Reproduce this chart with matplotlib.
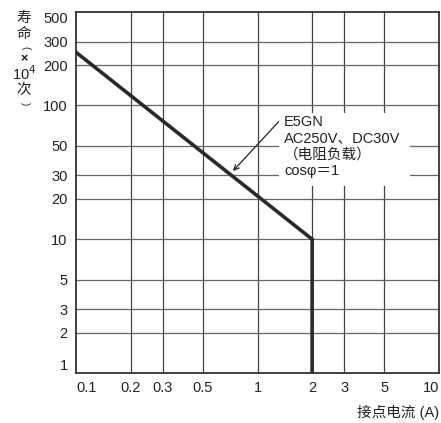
import matplotlib
matplotlib.use("Agg")
import matplotlib.pyplot as plt
from matplotlib.ticker import FixedLocator, NullLocator

plt.rcParams['font.family'] = ['Liberation Sans', 'Noto Sans CJK SC', 'DejaVu Sans']

# Data
current = [0.1, 2, 2]          # contact current (A)
life = [250, 10, 1]            # life (x10^4 operations)
x_ticks = [0.1, 0.2, 0.3, 0.5, 1, 2, 3, 5, 10]
x_labels = ['0.1', '0.2', '0.3', '0.5', '1', '2', '3', '5', '10']
y_ticks = [1, 2, 3, 5, 10, 20, 30, 50, 100, 200, 300, 500]
y_labels = ['1', '2', '3', '5', '10', '20', '30', '50', '100', '200', '300', '500']
annot_lines = ['E5GN', 'AC250V、DC30V', '（电阻负载）', 'cosφ＝1']

FS = 10.5
W, H = 441, 423
fig = plt.figure(figsize=(W / 100, H / 100), dpi=100)
ax = fig.add_axes([76 / W, 1 - 373 / H, (439 - 76) / W, (373 - 12) / H])
ax.set_xscale('log')
ax.set_yscale('log')
ax.set_xlim(0.1, 10)
ax.set_ylim(1, 500)

ax.xaxis.set_major_locator(FixedLocator(x_ticks))
ax.xaxis.set_minor_locator(NullLocator())
ax.yaxis.set_major_locator(FixedLocator(y_ticks))
ax.yaxis.set_minor_locator(NullLocator())
ax.set_xticklabels(x_labels)
ax.set_yticklabels(y_labels)
ax.tick_params(axis='both', length=0, labelsize=FS, colors='#222222')
ax.tick_params(axis='x', pad=6)
ax.tick_params(axis='y', pad=6)
xl = ax.get_xticklabels()
xl[0].set_ha('left')
xl[-1].set_ha('right')
yl = ax.get_yticklabels()
yl[0].set_va('bottom')
yl[-1].set_va('top')

for v in x_ticks[1:-1]:
    ax.axvline(v, color='#444444', lw=0.9, zorder=1)
for v in y_ticks[1:-1]:
    ax.axhline(v, color='#666666', lw=0.9, zorder=1)

for s in ax.spines.values():
    s.set_color('#333333')
    s.set_linewidth(1.3)

ax.plot(current, life, color='#2a2a2a', lw=2.6, zorder=3, solid_joinstyle='miter')

# annotation
fig.patches.append(plt.Rectangle((279 / W, 1 - 186 / H), (410 - 279) / W, (186 - 113) / H,
                                 transform=fig.transFigure, fc='white', ec='none', zorder=2))
ax.set_zorder(1)
ax.patch.set_alpha(0)
arrow_start = fig.transFigure.transform((283 / W, 1 - 117 / H))
arrow_end = fig.transFigure.transform((233 / W, 1 - 171 / H))
ax.annotate('', xy=ax.transData.inverted().transform(arrow_end),
            xytext=ax.transData.inverted().transform(arrow_start),
            arrowprops=dict(arrowstyle='->', color='#222222', lw=0.9,
                            shrinkA=0, shrinkB=0, mutation_scale=9), zorder=5)
ys = [122, 138.5, 155, 171.5]
for t, y in zip(annot_lines, ys):
    fig.text(284 / W, 1 - y / H, t, fontsize=FS, va='center', ha='left', color='#222222', zorder=6)

# y-axis label (vertical)
yl_color = '#222222'
cx = 24 / W
fig.text(cx, 1 - 18 / H, '寿', fontsize=FS, ha='center', va='center', color=yl_color)
fig.text(cx, 1 - 34 / H, '命', fontsize=FS, ha='center', va='center', color=yl_color)
fig.text(cx + 1 / W, 1 - 48 / H, '(', fontsize=7, ha='center', va='center', rotation=-90, color=yl_color)
fig.text(cx, 1 - 59 / H, '×', fontsize=9, ha='center', va='center', color=yl_color, weight='bold')
fig.text(cx, 1 - 74 / H, r'10$^{4}$', fontsize=FS, ha='center', va='center', color=yl_color)
fig.text(cx, 1 - 90 / H, '次', fontsize=FS, ha='center', va='center', color=yl_color)
fig.text(cx + 1 / W, 1 - 104 / H, ')', fontsize=7, ha='center', va='center', rotation=-90, color=yl_color)

fig.text(439 / W, 1 - 412 / H, '接点电流 (A)', fontsize=FS, ha='right', va='center', color=yl_color)

fig.savefig('out.png', dpi=100)
